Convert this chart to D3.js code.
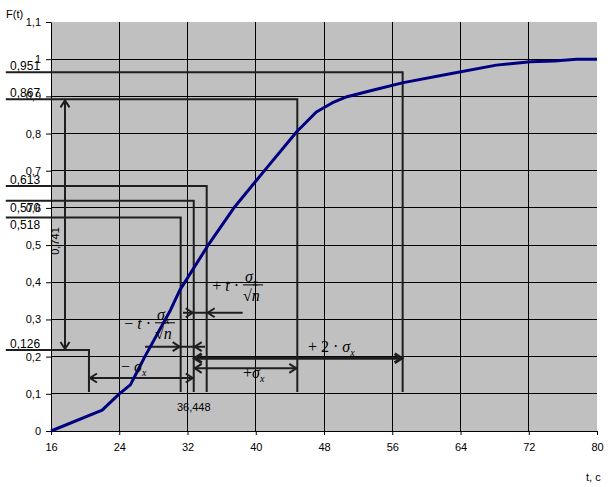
<!DOCTYPE html>
<html>
<head>
<meta charset="utf-8">
<script src="https://cdn.jsdelivr.net/npm/d3@7"></script>
<style>
  body { margin: 0; background: #fff; }
  text { font-family: "Liberation Sans", Arial, sans-serif; }
  .m { font-family: "Liberation Serif", "Times New Roman", serif; font-size: 16px; }
</style>
</head>
<body>
<svg width="613" height="487"></svg>
<script>
// curve F(t)
const tValues = [16, 22, 24, 25.3, 26.2, 27, 30, 31.1, 34.4, 37.4, 40.9, 44.8, 47.1, 49, 50.7, 53.8, 57.3, 62.8, 68.2, 72.2, 75, 77.6, 80];
const fValues = [0, 0.056, 0.1, 0.124, 0.164, 0.2, 0.325, 0.379, 0.499, 0.599, 0.697, 0.805, 0.858, 0.883, 0.899, 0.917, 0.937, 0.961, 0.984, 0.993, 0.995, 1, 1];

const xTicks = [16, 24, 32, 40, 48, 56, 64, 72, 80];
const yTicks = [0, 0.1, 0.2, 0.3, 0.4, 0.5, 0.6, 0.7, 0.8, 0.9, 1, 1.1];
const yTickLabels = ["0", "0,1", "0,2", "0,3", "0,4", "0,5", "0,6", "0,7", "0,8", "0,9", "1", "1,1"];

// hand-drawn level lines (label, drawn height, where it drops down)
const levelText = ["0,951", "0,867", "0,613", "0,570", "0,518", "0,126"];
const levelF = [0.965, 0.892, 0.659, 0.619, 0.574, 0.218];
const levelT = [57.22, 44.87, 34.25, 32.73, 31.2, 20.45];
const levelTextBelow = [false, false, false, true, true, false];
const lineStartT = 10.7, labelT = 11.2, dropBottomF = 0.105;

// double arrows for sigma spans
const sigmaT1 = [20.45, 32.73, 32.73];
const sigmaT2 = [32.73, 44.87, 57.22];
const sigmaF = [0.1426, 0.1686, 0.1955];
const sigmaW = [2, 2, 3];

// inward arrows for the t*sigma/sqrt(n) spans
const confLineT1 = [27.02, 31.47];
const confLineT2 = [34.05, 38.47];
const confTipA = [31.2, 32.73];
const confTipB = [32.73, 34.25];
const confF = [0.2267, 0.318];

const svg = d3.select("svg");
const width = +svg.attr("width");
const height = +svg.attr("height");
const margin = { top: 22, right: 16, bottom: 56, left: 51 };

const x = d3.scaleLinear().domain([16, 80]).range([margin.left, width - margin.right]);
const y = d3.scaleLinear().domain([0, 1.1]).range([height - margin.bottom, margin.top]);

// plot background
svg.append("rect")
  .attr("x", x(16)).attr("y", y(1.1))
  .attr("width", x(80) - x(16)).attr("height", y(0) - y(1.1))
  .attr("fill", "#c0c0c0");

// grid
svg.append("g").selectAll("line").data(xTicks.slice(1, -1)).join("line")
  .attr("x1", d => x(d)).attr("x2", d => x(d))
  .attr("y1", y(0)).attr("y2", y(1.1))
  .attr("stroke", "#000").attr("stroke-width", 1).attr("shape-rendering", "crispEdges");
svg.append("g").selectAll("line").data(yTicks.slice(1, -1)).join("line")
  .attr("x1", x(16)).attr("x2", x(80))
  .attr("y1", d => y(d)).attr("y2", d => y(d))
  .attr("stroke", "#000").attr("stroke-width", 1).attr("shape-rendering", "crispEdges");

// axes
const xAxis = svg.append("g")
  .attr("transform", `translate(0,${y(0)})`)
  .call(d3.axisBottom(x).tickValues(xTicks).tickSizeInner(4).tickSizeOuter(0).tickPadding(8));
const yAxis = svg.append("g")
  .attr("transform", `translate(${x(16)},0)`)
  .call(d3.axisLeft(y).tickValues(yTicks).tickFormat((d, i) => yTickLabels[i]).tickSizeInner(5).tickSizeOuter(0).tickPadding(5));
[xAxis, yAxis].forEach(a => {
  a.select(".domain").attr("stroke", "#000");
  a.selectAll("line").attr("stroke", "#000");
  a.selectAll("text").attr("font-size", 11).attr("font-family", "Liberation Sans, Arial, sans-serif").attr("fill", "#000");
});

svg.append("text").attr("x", 6).attr("y", 18).attr("font-size", 11).text("F(t)");
svg.append("text").attr("x", 586).attr("y", 481).attr("font-size", 11).text("t, c");

// annotation lines
const ann = svg.append("g").attr("stroke", "#1e1e1e").attr("fill", "none");

levelF.forEach((f, i) => {
  ann.append("polyline")
    .attr("stroke-width", 2)
    .attr("points", [[x(lineStartT), y(f)], [x(levelT[i]), y(f)], [x(levelT[i]), y(dropBottomF)]].join(" "));
  svg.append("text")
    .attr("x", x(labelT))
    .attr("y", y(f) + (levelTextBelow[i] ? 11 : -2))
    .attr("font-size", 12)
    .text(levelText[i]);
});

function head(px, py, ux, uy, w) {
  const L = 7, H = 4.5;
  const nx = -uy, ny = ux;
  ann.append("polyline")
    .attr("stroke-width", w || 2)
    .attr("points", [[px - L * ux + H * nx, py - L * uy + H * ny], [px, py], [px - L * ux - H * nx, py - L * uy - H * ny]].join(" "));
}

// 0,741 vertical double arrow
const vArrowT = 17.64;
ann.append("line")
  .attr("stroke-width", 2)
  .attr("x1", x(vArrowT)).attr("x2", x(vArrowT))
  .attr("y1", y(levelF[1]) + 1).attr("y2", y(levelF[5]) - 1);
head(x(vArrowT), y(levelF[1]) + 1, 0, -1);
head(x(vArrowT), y(levelF[5]) - 1, 0, 1);
svg.append("text")
  .attr("transform", `translate(${x(16.95)},${y(0.511)}) rotate(-90)`)
  .attr("text-anchor", "middle").attr("font-size", 11).text("0,741");

// sigma spans
sigmaF.forEach((f, i) => {
  ann.append("line")
    .attr("stroke-width", sigmaW[i])
    .attr("x1", x(sigmaT1[i]) + 1).attr("x2", x(sigmaT2[i]) - 1)
    .attr("y1", y(f)).attr("y2", y(f));
  head(x(sigmaT1[i]) + 1, y(f), -1, 0, sigmaW[i]);
  head(x(sigmaT2[i]) - 1, y(f), 1, 0, sigmaW[i]);
});

// confidence spans, arrows pointing inward
confF.forEach((f, i) => {
  ann.append("line")
    .attr("stroke-width", 2)
    .attr("x1", x(confLineT1[i])).attr("x2", x(confLineT2[i]))
    .attr("y1", y(f)).attr("y2", y(f));
  head(x(confTipA[i]) - 1, y(f), 1, 0);
  head(x(confTipB[i]) + 1, y(f), -1, 0);
});

// curve
svg.append("path")
  .datum(tValues.map((t, i) => [t, fValues[i]]))
  .attr("fill", "none")
  .attr("stroke", "#000080")
  .attr("stroke-width", 3)
  .attr("stroke-linejoin", "round")
  .attr("d", d3.line().x(d => x(d[0])).y(d => y(d[1])));

// math labels
function sigmaX(g, px, py) {
  const t = g.append("text").attr("class", "m").attr("x", px).attr("y", py);
  t.append("tspan").attr("font-style", "italic").text("σ");
  t.append("tspan").attr("font-style", "italic").attr("font-size", 10).attr("dy", 4).text("x");
}
function prefixLabel(g, px, py, parts, anchor) {
  const t = g.append("text").attr("class", "m").attr("x", px).attr("y", py).attr("text-anchor", anchor || "start");
  parts.forEach(p => t.append("tspan").attr("font-style", p[1] ? "italic" : "normal").text(p[0]));
  return t;
}
function fracLabel(t, f, parts) {
  const g = svg.append("g");
  const px = x(t), py = y(f);
  prefixLabel(g, px - 4, py + 6, parts, "end");
  g.append("line").attr("x1", px).attr("x2", px + 20).attr("y1", py).attr("y2", py)
    .attr("stroke", "#000").attr("stroke-width", 1);
  sigmaX(g, px + 2, py - 3);
  prefixLabel(g, px, py + 16, [["√", false], ["n", true]]);
}
fracLabel(38.51, 0.393, [["+", false], [" t", true], [" ·", false]]);
fracLabel(28.19, 0.291, [["−", false], [" t", true], [" ·", false]]);

function sigmaLabel(t, f, parts) {
  const g = svg.append("g");
  const txt = prefixLabel(g, x(t), y(f), parts);
  txt.append("tspan").attr("font-style", "italic").text("σ");
  txt.append("tspan").attr("font-style", "italic").attr("font-size", 10).attr("dy", 4).text("x");
}
sigmaLabel(24.21, 0.159, [["− ", false]]);
sigmaLabel(38.51, 0.143, [["+", false]]);
sigmaLabel(46.12, 0.212, [["+ 2 · ", false]]);

svg.append("text")
  .attr("x", x(levelT[3])).attr("y", y(dropBottomF) + 19)
  .attr("text-anchor", "middle").attr("font-size", 11).text("36,448");
</script>
</body>
</html>
